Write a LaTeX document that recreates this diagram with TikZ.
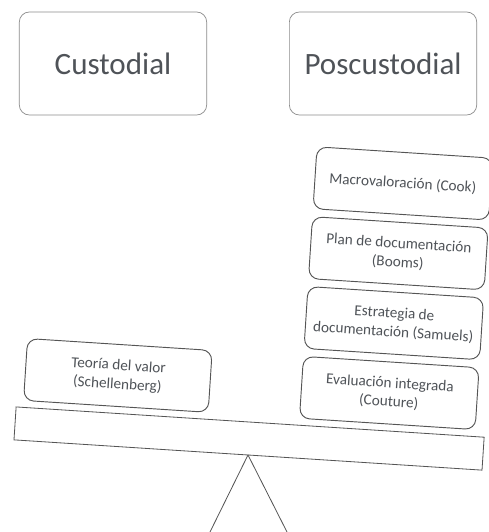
\documentclass[tikz,border=0pt]{standalone}
\usepackage{fontspec}
\setmainfont{Carlito}
\usetikzlibrary{positioning}
\definecolor{textgray}{HTML}{4F5358}
\definecolor{linegray}{HTML}{555555}
\definecolor{lightline}{HTML}{8A8A8A}

\begin{document}
\begin{tikzpicture}[x=0.03cm, y=0.03cm,
      titlebox/.style={draw=lightline, line width=0.6pt, rounded corners=0.3cm,
          minimum width=5.62cm, minimum height=3.09cm, text=textgray,
          font=\fontsize{26.5}{32}\selectfont},
      weightbox/.style={draw=linegray, line width=0.8pt, rounded corners=0.3cm,
          minimum width=5.28cm, minimum height=1.86cm, inner sep=1pt, outer sep=0pt,
          align=center, text=textgray, font=\fontsize{13}{16}\selectfont},
      plankbox/.style={draw=linegray, line width=0.7pt, inner sep=0pt, outer sep=0pt,
          minimum width=14.07cm, minimum height=0.99cm}]

      \useasboundingbox (0,0) rectangle (489,532);

      % Two headings
      \node(custodial)[titlebox] at (113,468.5) {Custodial};
      \node(poscustodial)[titlebox, right=2.46cm of custodial] {Poscustodial};

      % Fulcrum
      \coordinate(pivot) at (248,77);
      \coordinate(footleft) at (210,0);
      \coordinate(footright) at (287,0);
      \draw[linegray, line width=0.7pt] (footleft) -- (pivot) -- (footright);

      % Tilted plank with its weights
      \begin{scope}[shift={(pivot)}, rotate=-3.7, transform shape]
          \node(plank)[plankbox, anchor=south] at (0,0) {};

          % Left side
          \node(teoria)[weightbox, minimum width=5.55cm, anchor=south] at (-135,40)
              {Teoría del valor\\(Schellenberg)};

          % Right side, stacked from the plank up
          \node(evaluacion)[weightbox, anchor=south] at (137,40)
              {Evaluación integrada\\(Couture)};
          \node(samuels)[weightbox, above=2.4mm of evaluacion]
              {Estrategia de\\documentación (Samuels)};
          \node(booms)[weightbox, above=2.4mm of samuels]
              {Plan de documentación\\(Booms)};
          \node(cook)[weightbox, above=2.4mm of booms]
              {Macrovaloración (Cook)};
      \end{scope}

\end{tikzpicture}
\end{document}
